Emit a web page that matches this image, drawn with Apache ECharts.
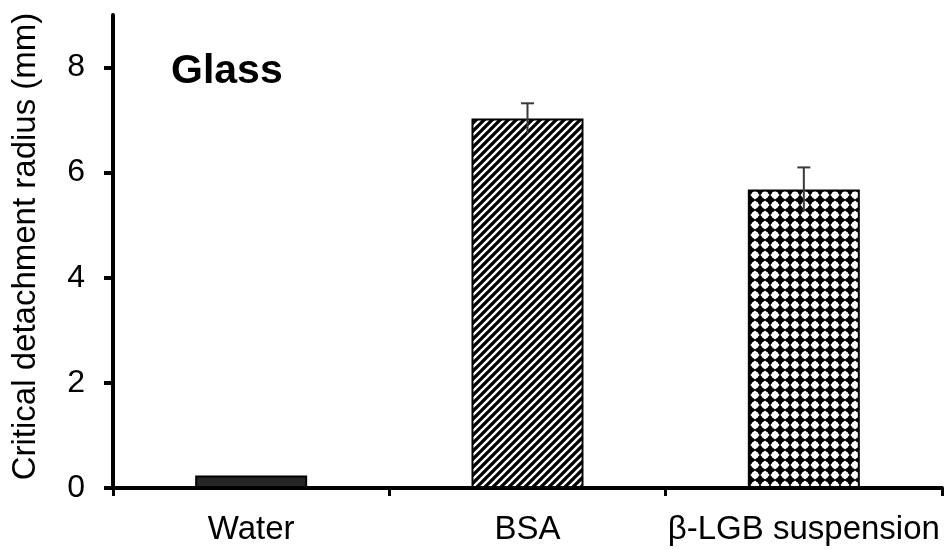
<!DOCTYPE html>
<html>
<head>
<meta charset="utf-8">
<script src="https://cdn.jsdelivr.net/npm/echarts@6/dist/echarts.min.js"></script>
<style>
  html, body { margin: 0; padding: 0; background: #fff; }
  #chart { width: 945px; height: 550px; }
</style>
</head>
<body>
<div id="chart"></div>
<script>
// Critical detachment radius on glass, per treatment
const categories = ['Water', 'BSA', 'β-LGB suspension'];
const radius = [0.24, 7.03, 5.68];
const radiusErr = [0, 0.29, 0.42];
const yTicks = [0, 2, 4, 6, 8];

const FONT = '"Liberation Sans", Arial, sans-serif';

// Hatch tile: black ground with white diagonal stripes
function stripeTile() {
  const p = 8;
  const c = document.createElement('canvas');
  c.width = p; c.height = p;
  const g = c.getContext('2d');
  g.fillStyle = '#000';
  g.fillRect(0, 0, p, p);
  g.strokeStyle = '#fff';
  g.lineWidth = 2.3;
  g.beginPath();
  g.moveTo(-2, p + 2); g.lineTo(p + 2, -2);
  g.moveTo(-2, 2); g.lineTo(2, -2);
  g.moveTo(p - 2, p + 2); g.lineTo(p + 2, p - 2);
  g.stroke();
  return c;
}

// Dot tile: black ground with a white rounded diamond
function dotTile() {
  const p = 10;
  const c = document.createElement('canvas');
  c.width = p; c.height = p;
  const g = c.getContext('2d');
  g.fillStyle = '#000';
  g.fillRect(0, 0, p, p);
  g.fillStyle = '#fff';
  const m = p / 2, d = 4.6;
  g.beginPath();
  g.moveTo(m, m - d); g.lineTo(m + d, m); g.lineTo(m, m + d); g.lineTo(m - d, m);
  g.closePath();
  g.fill();
  g.beginPath();
  g.arc(m, m, 3.4, 0, Math.PI * 2);
  g.fill();
  return c;
}

const fills = [
  '#262626',
  { image: stripeTile(), repeat: 'repeat' },
  { image: dotTile(), repeat: 'repeat' }
];

const chart = echarts.init(document.getElementById('chart'), null, { renderer: 'canvas' });

chart.setOption({
  backgroundColor: '#fff',
  animation: false,
  title: {
    text: 'Glass',
    left: 171,
    top: 51,
    padding: 0,
    textStyle: { fontFamily: FONT, fontSize: 41, fontWeight: 'bold', color: '#000' }
  },
  grid: { left: 113, right: 3, top: 15, bottom: 62, outerBoundsMode: 'none' },
  xAxis: {
    type: 'category',
    data: categories,
    boundaryGap: true,
    axisLine: { lineStyle: { color: '#000', width: 4 } },
    axisTick: { show: true, interval: 0, length: 8, lineStyle: { color: '#000', width: 3 } },
    axisLabel: { interval: 0, margin: 25, fontFamily: FONT, fontSize: 33, color: '#000' },
    splitLine: { show: false }
  },
  yAxis: {
    type: 'value',
    min: 0,
    max: 9,
    name: 'Critical detachment radius (mm)',
    nameLocation: 'middle',
    nameRotate: 90,
    nameGap: 71,
    nameTextStyle: { fontFamily: FONT, fontSize: 33, color: '#000', padding: [0, 0, 0, 10] },
    axisLine: { show: true, lineStyle: { color: '#000', width: 4 } },
    axisTick: { show: true, length: 9, customValues: yTicks, lineStyle: { color: '#000', width: 4 } },
    axisLabel: { customValues: yTicks, margin: 28, fontFamily: FONT, fontSize: 32, color: '#000' },
    splitLine: { show: false }
  },
  series: [
    {
      type: 'bar',
      barWidth: 112,
      data: radius.map((v, i) => ({
        value: v,
        itemStyle: { color: fills[i], borderColor: '#000', borderWidth: 2 }
      })),
      z: 2
    },
    {
      type: 'custom',
      z: 5,
      data: radius
        .map((v, i) => [i, v, radiusErr[i]])
        .filter(d => d[2] > 0),
      renderItem: function (params, api) {
        const x = api.value(0), v = api.value(1), e = api.value(2);
        const top = api.coord([x, v + e]);
        const bot = api.coord([x, v - e]);
        const hw = 6.5;
        const style = { stroke: '#3a3a3a', lineWidth: 2 };
        return {
          type: 'group',
          children: [
            { type: 'line', shape: { x1: top[0], y1: top[1], x2: bot[0], y2: bot[1] }, style: style },
            { type: 'line', shape: { x1: top[0] - hw, y1: top[1], x2: top[0] + hw, y2: top[1] }, style: style }
          ]
        };
      }
    }
  ]
});
</script>
</body>
</html>
